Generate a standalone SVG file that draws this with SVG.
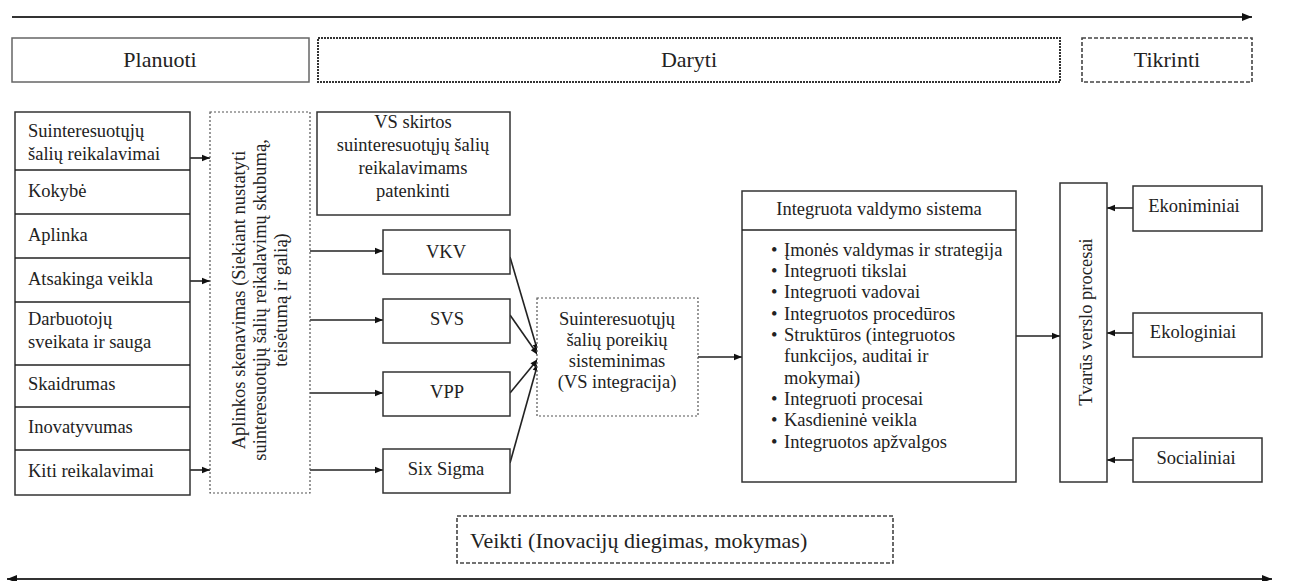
<svg xmlns="http://www.w3.org/2000/svg" width="1311" height="581" viewBox="0 0 1311 581">
<style>
text{font-family:"Liberation Serif","Times New Roman",serif;fill:#222;font-size:18.5px}
.h{font-size:22px}
.c{text-anchor:middle}
.solid{fill:#fff;stroke:#333;stroke-width:1.5}
.dot{fill:#fff;stroke:#555;stroke-width:1.2;stroke-dasharray:2 2}
.dash{fill:#fff;stroke:#444;stroke-width:1.6;stroke-dasharray:4 2}
.ln{stroke:#222;stroke-width:1.6;fill:none}
.big{stroke:#333;stroke-width:2.2;fill:none}
</style>
<defs>
<marker id="ah" viewBox="0 0 10 10" refX="10" refY="5" markerWidth="9" markerHeight="8" markerUnits="userSpaceOnUse" orient="auto-start-reverse"><path d="M0,1 L10,5 L0,9 z" fill="#111"/></marker>
<marker id="ahb" viewBox="0 0 10 10" refX="10" refY="5" markerWidth="12" markerHeight="10" markerUnits="userSpaceOnUse" orient="auto-start-reverse"><path d="M0,1 L10,5 L0,9 z" fill="#111"/></marker>
</defs>

<g id="connectors">
<line class="big" x1="12" y1="17" x2="1252" y2="17" marker-end="url(#ahb)"/>
<line class="big" x1="7" y1="579" x2="1272" y2="579" stroke-width="2.8" marker-start="url(#ahb)" marker-end="url(#ahb)"/>
<line class="ln" x1="190" y1="158" x2="210" y2="158" marker-end="url(#ah)"/>
<line class="ln" x1="190" y1="281" x2="210" y2="281" marker-end="url(#ah)"/>
<line class="ln" x1="190" y1="470" x2="210" y2="470" marker-end="url(#ah)"/>
<line class="ln" x1="310" y1="251" x2="383" y2="251" marker-end="url(#ah)"/>
<line class="ln" x1="310" y1="320" x2="383" y2="320" marker-end="url(#ah)"/>
<line class="ln" x1="310" y1="393" x2="383" y2="393" marker-end="url(#ah)"/>
<line class="ln" x1="310" y1="470" x2="383" y2="470" marker-end="url(#ah)"/>
<line class="ln" x1="510" y1="257" x2="538" y2="352" marker-end="url(#ah)"/>
<line class="ln" x1="510" y1="315" x2="538" y2="355" marker-end="url(#ah)"/>
<line class="ln" x1="510" y1="393" x2="538" y2="359" marker-end="url(#ah)"/>
<line class="ln" x1="510" y1="463" x2="538" y2="363" marker-end="url(#ah)"/>
<line class="ln" x1="698" y1="357" x2="742" y2="357" marker-end="url(#ah)"/>
<line class="ln" x1="1016" y1="336" x2="1060" y2="336" marker-end="url(#ah)"/>
<line class="ln" x1="1133" y1="208" x2="1107" y2="208" marker-end="url(#ah)"/>
<line class="ln" x1="1133" y1="333" x2="1107" y2="333" marker-end="url(#ah)"/>
<line class="ln" x1="1133" y1="460" x2="1107" y2="460" marker-end="url(#ah)"/>
</g>

<g id="planuoti"><rect x="12" y="38" width="297" height="44" fill="#fff" stroke="#666" stroke-width="1.5"/><text class="h c" x="160" y="67">Planuoti</text></g>
<g id="daryti"><rect x="318" y="38" width="742" height="44" fill="#fff" stroke="#333" stroke-width="2" stroke-dasharray="2 1"/><text class="h c" x="689" y="67">Daryti</text></g>
<g id="tikrinti"><rect x="1082" y="38" width="170" height="44" class="dash" stroke="#666" stroke-width="1.3"/><text class="h c" x="1167" y="67">Tikrinti</text></g>

<g id="reikalavimai">
<rect class="solid" x="15" y="112" width="175" height="383"/>
<line class="ln" x1="15" y1="170" x2="190" y2="170"/>
<line class="ln" x1="15" y1="214" x2="190" y2="214"/>
<line class="ln" x1="15" y1="258" x2="190" y2="258"/>
<line class="ln" x1="15" y1="302" x2="190" y2="302"/>
<line class="ln" x1="15" y1="365" x2="190" y2="365"/>
<line class="ln" x1="15" y1="407" x2="190" y2="407"/>
<line class="ln" x1="15" y1="450" x2="190" y2="450"/>
<text x="28" y="137">Suinteresuotųjų</text>
<text x="28" y="160">šalių reikalavimai</text>
<text x="28" y="197">Kokybė</text>
<text x="28" y="241">Aplinka</text>
<text x="28" y="285">Atsakinga veikla</text>
<text x="28" y="325">Darbuotojų</text>
<text x="28" y="348">sveikata ir sauga</text>
<text x="28" y="390">Skaidrumas</text>
<text x="28" y="433">Inovatyvumas</text>
<text x="28" y="477">Kiti reikalavimai</text>
</g>

<g id="aplinkos">
<rect class="dot" x="210" y="112" width="100" height="381"/>
<g transform="translate(0,300) rotate(-90)">
<text class="c" x="0" y="245">Aplinkos skenavimas (Siekiant nustatyti</text>
<text class="c" x="0" y="266">suinteresuotųjų šalių reikalavimų skubumą,</text>
<text class="c" x="0" y="287">teisėtumą ir galią)</text>
</g>
</g>

<g id="vs-skirtos">
<rect class="solid" x="317" y="112" width="193" height="103"/>
<text class="c" x="413" y="128">VS skirtos</text>
<text class="c" x="413" y="151">suinteresuotųjų šalių</text>
<text class="c" x="413" y="174">reikalavimams</text>
<text class="c" x="413" y="197">patenkinti</text>
</g>

<g id="vkv"><rect class="solid" x="383" y="230" width="127" height="44"/><text class="c" x="446" y="258">VKV</text></g>
<g id="svs"><rect class="solid" x="383" y="299" width="127" height="44"/><text class="c" x="447" y="325">SVS</text></g>
<g id="vpp"><rect class="solid" x="383" y="372" width="127" height="44"/><text class="c" x="447" y="398">VPP</text></g>
<g id="six-sigma"><rect class="solid" x="383" y="449" width="127" height="44"/><text class="c" x="446" y="475">Six Sigma</text></g>

<g id="sisteminimas">
<rect class="dot" x="537" y="298" width="161" height="118"/>
<text class="c" x="617" y="325">Suinteresuotųjų</text>
<text class="c" x="617" y="346">šalių poreikių</text>
<text class="c" x="617" y="367">sisteminimas</text>
<text class="c" x="617" y="388">(VS integracija)</text>
</g>

<g id="integruota">
<rect class="solid" x="742" y="191" width="274" height="291"/>
<line class="ln" x1="742" y1="230" x2="1016" y2="230"/>
<text class="c" x="879" y="215">Integruota valdymo sistema</text>
<text x="771" y="256">•</text><text x="784" y="256">Įmonės valdymas ir strategija</text>
<text x="771" y="277">•</text><text x="784" y="277">Integruoti tikslai</text>
<text x="771" y="298">•</text><text x="784" y="298">Integruoti vadovai</text>
<text x="771" y="320">•</text><text x="784" y="320">Integruotos procedūros</text>
<text x="771" y="341">•</text><text x="784" y="341">Struktūros (integruotos</text>
<text x="784" y="362">funkcijos, auditai ir</text>
<text x="784" y="384">mokymai)</text>
<text x="771" y="405">•</text><text x="784" y="405">Integruoti procesai</text>
<text x="771" y="426">•</text><text x="784" y="426">Kasdieninė veikla</text>
<text x="771" y="448">•</text><text x="784" y="448">Integruotos apžvalgos</text>
</g>

<g id="tvarus">
<rect class="solid" x="1060" y="183" width="47" height="299"/>
<text class="c" transform="translate(1092,322) rotate(-90)" x="0" y="0">Tvarūs verslo procesai</text>
</g>

<g id="ekonominiai"><rect class="solid" x="1133" y="186" width="129" height="45"/><text class="c" x="1194" y="212">Ekoniminiai</text></g>
<g id="ekologiniai"><rect class="solid" x="1133" y="313" width="129" height="44"/><text class="c" x="1193" y="338">Ekologiniai</text></g>
<g id="socialiniai"><rect class="solid" x="1133" y="438" width="129" height="44"/><text class="c" x="1196" y="464">Socialiniai</text></g>

<g id="veikti"><rect class="dash" x="457" y="516" width="436" height="47"/><text class="h" x="470" y="548">Veikti (Inovacijų diegimas, mokymas)</text></g>
</svg>
